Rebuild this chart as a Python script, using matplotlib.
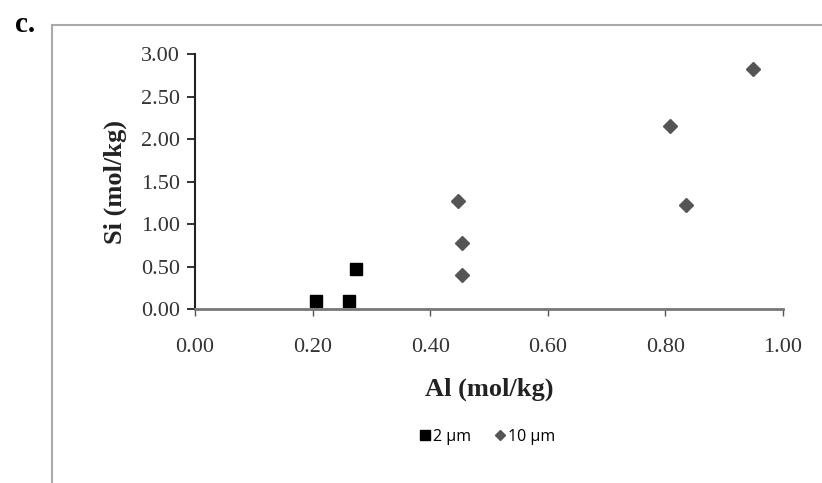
import matplotlib.pyplot as plt
from matplotlib.lines import Line2D

# values
al_2um = [0.206, 0.262, 0.274]
si_2um = [0.09, 0.09, 0.47]
al_10um = [0.447, 0.454, 0.454, 0.808, 0.835, 0.949]
si_10um = [1.27, 0.78, 0.40, 2.15, 1.22, 2.82]

xticks = [0.0, 0.2, 0.4, 0.6, 0.8, 1.0]
yticks = [0.0, 0.5, 1.0, 1.5, 2.0, 2.5, 3.0]

serif = "Liberation Serif"

fig = plt.figure(figsize=(8.22, 4.83), dpi=100)
ax = fig.add_axes([0.2372, 0.3602, 0.9526 - 0.2372, 0.8882 - 0.3602])

ax.plot(al_2um, si_2um, ls="none", marker="s", ms=8.5, color="black", label="2 µm", clip_on=False)
ax.plot(al_10um, si_10um, ls="none", marker="D", ms=7.5, color="#555555", label="10 µm", clip_on=False)

ax.set_xlim(0, 1)
ax.set_ylim(0, 3)
ax.set_xticks(xticks)
ax.set_yticks(yticks)
ax.set_xticklabels([f"{v:.2f}" for v in xticks], family=serif, fontsize=16, color="#333333")
ax.set_yticklabels([f"{v:.2f}" for v in yticks], family=serif, fontsize=16, color="#333333")
ax.tick_params(axis="y", direction="out", length=6, width=1.3, pad=5, color="#222222")
ax.tick_params(axis="x", direction="out", length=5, width=1.0, pad=16, color="#555555")

for s in ["top", "right"]:
    ax.spines[s].set_visible(False)
ax.spines["left"].set_color("#222222")
ax.spines["left"].set_linewidth(1.5)
ax.spines["bottom"].set_color("#777777")
ax.spines["bottom"].set_linewidth(2.0)

ax.set_xlabel("Al (mol/kg)", family=serif, fontsize=19, fontweight="bold", labelpad=15, color="#222222")
ax.set_ylabel("Si (mol/kg)", family=serif, fontsize=19, fontweight="bold", labelpad=10, color="#222222")

# outer frame (left and top edges visible)
fig.add_artist(Line2D([52 / 822, 52 / 822], [0, 1 - 25 / 483], color="#aaaaaa", lw=1.5))
fig.add_artist(Line2D([52 / 822, 1], [1 - 25 / 483, 1 - 25 / 483], color="#aaaaaa", lw=1.5))

fig.text(15 / 822, 1 - 24 / 483, "c.", family=serif, fontsize=21, fontweight="bold", va="center")

handles = [
    Line2D([], [], ls="none", marker="s", ms=6.5, color="black"),
    Line2D([], [], ls="none", marker="D", ms=5.5, color="#555555"),
]
fig.legend(handles, ["2 µm", "10 µm"], loc="center", bbox_to_anchor=(488 / 822, 1 - 437 / 483),
           ncol=2, frameon=False, handlelength=0.6, handletextpad=0.2, columnspacing=1.5,
           prop={"family": "Open Sans", "size": 11.5})

fig.savefig("out.png", dpi=100)
